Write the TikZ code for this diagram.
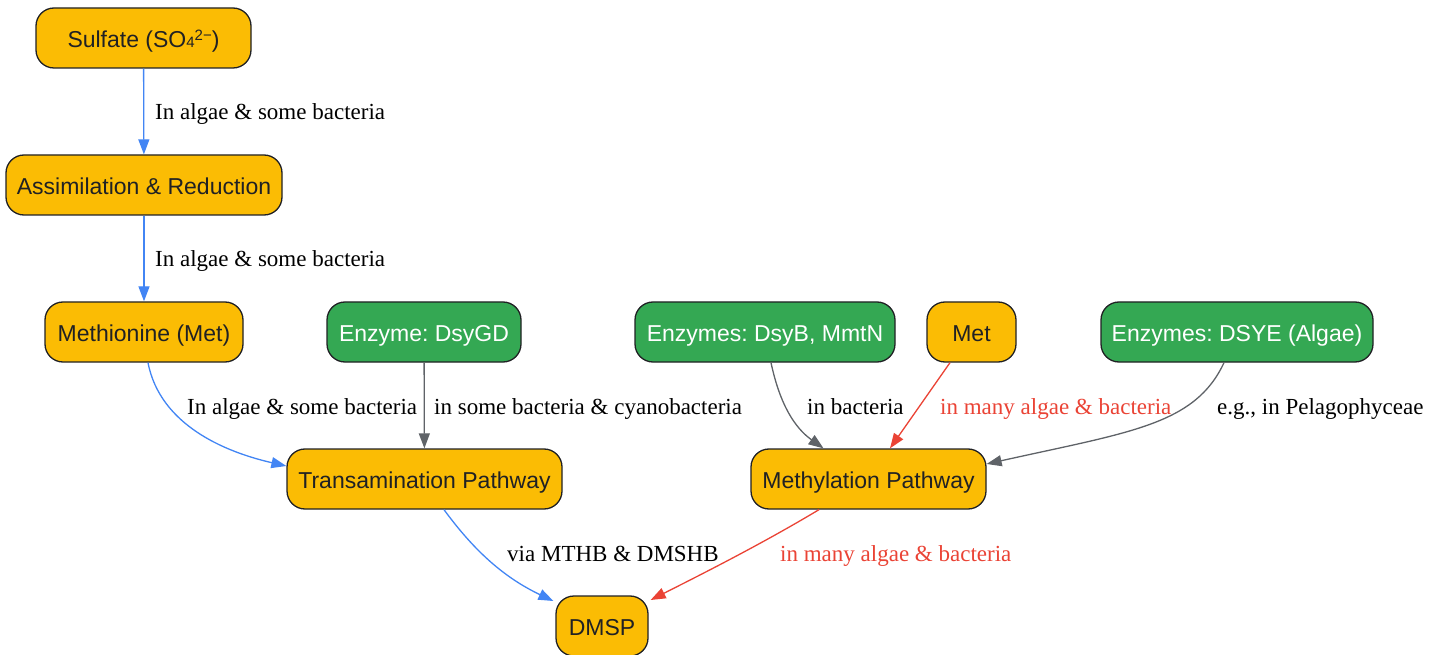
\documentclass[tikz,border=0pt]{standalone}
\usepackage{fontspec}
\setmainfont{Liberation Serif}
\newfontfamily\boxfont{Liberation Sans}
\usetikzlibrary{arrows.meta,calc}
\definecolor{ambre}{HTML}{FBBC04}
\definecolor{vert}{HTML}{34A853}
\definecolor{bleu}{HTML}{4285F4}
\definecolor{gris}{HTML}{5F6368}
\definecolor{rouge}{HTML}{EA4335}
\definecolor{bord}{HTML}{202124}
\frenchspacing

\begin{document}
\begin{tikzpicture}[x=1pt,y=-1pt,
  box/.style={draw=bord,line width=1.3pt,rounded corners=18pt,minimum height=60pt,inner sep=0pt,
    text height=19pt,text depth=0pt,font=\boxfont\fontsize{23}{27}\selectfont},
  yellow box/.style={box,fill=ambre,text=bord},
  green box/.style={box,fill=vert,text=white},
  flow/.style={line width=1.3pt,-{Triangle[length=15pt,width=11pt]}},
  lab/.style={anchor=base west,inner sep=0pt,font=\fontsize{23}{27}\selectfont}]
      \useasboundingbox(0,0)rectangle(1444,655);
      % substances and pathways
      \node[yellow box,minimum width=215pt](sulf) at (143.5,38)
        {Sulfate (SO{\fontsize{15}{15}\selectfont 4}\raisebox{7pt}{\fontsize{15}{15}\selectfont 2\char"2212})};
      \node[yellow box,minimum width=276pt](assim) at (144,185){Assimilation \& Reduction};
      \node[yellow box,minimum width=198pt](meth) at (144,332){Methionine (Met)};
      \node[yellow box,minimum width=89pt](metb) at (971.5,332){Met};
      \node[yellow box,minimum width=275pt](trans) at (424.5,479){Transamination Pathway};
      \node[yellow box,minimum width=235pt](methyl) at (868.5,479){Methylation Pathway};
      \node[yellow box,minimum width=92pt](dmsp) at (602,626){DMSP};
      % enzymes
      \node[green box,minimum width=194pt](dsygd) at (424,332){Enzyme: DsyGD};
      \node[green box,minimum width=260pt](dsyb) at (765,332){Enzymes: DsyB, MmtN};
      \node[green box,minimum width=272pt](dsye) at (1237,332){Enzymes: DSYE (Algae)};

      \draw[flow,bleu](sulf)--(assim);
      \draw[flow,bleu](assim)--(meth);
      \draw[flow,bleu]($(meth.south)+(4,0)$) .. controls (160,425) and (225,452) .. ($(trans.west)+(0,-13)$);
      \draw[flow,gris](dsygd)--(trans);
      \draw[flow,gris]($(dsyb.south)+(6,0)$) .. controls (780,405) and (795,428) .. ($(methyl.north)+(-45,0)$);
      \draw[flow,rouge]($(metb.south)+(-21.5,0)$)--($(methyl.north)+(21.5,0)$);
      \draw[flow,gris]($(dsye.south)+(-13,0)$) .. controls (1195,425) and (1130,432) .. ($(methyl.east)+(0,-15)$);
      \draw[flow,bleu]($(trans.south)+(19.5,0)$) .. controls (475,552) and (505,578) .. ($(dmsp.west)+(-2,-25)$);
      \draw[flow,rouge]($(methyl.south)+(-49.5,0)$) .. controls (760,545) and (700,575) .. ($(dmsp.east)+(2,-26)$);

      % edge labels
      \node[lab](l1) at (155,120){In algae \& some bacteria};
      \node[lab](l2) at (155,267){In algae \& some bacteria};
      \node[lab](l3) at (187,414){In algae \& some bacteria};
      \node[lab](l4) at (434,414){in some bacteria \& cyanobacteria};
      \node[lab](l5) at (807,414){in bacteria};
      \node[lab,text=rouge](l6) at (940,414){in many algae \& bacteria};
      \node[lab](l7) at (1217,414){e.g., in Pelagophyceae};
      \node[lab](l8) at (507,561){via MTHB \& DMSHB};
      \node[lab,text=rouge](l9) at (780,561){in many algae \& bacteria};
\end{tikzpicture}
\end{document}
